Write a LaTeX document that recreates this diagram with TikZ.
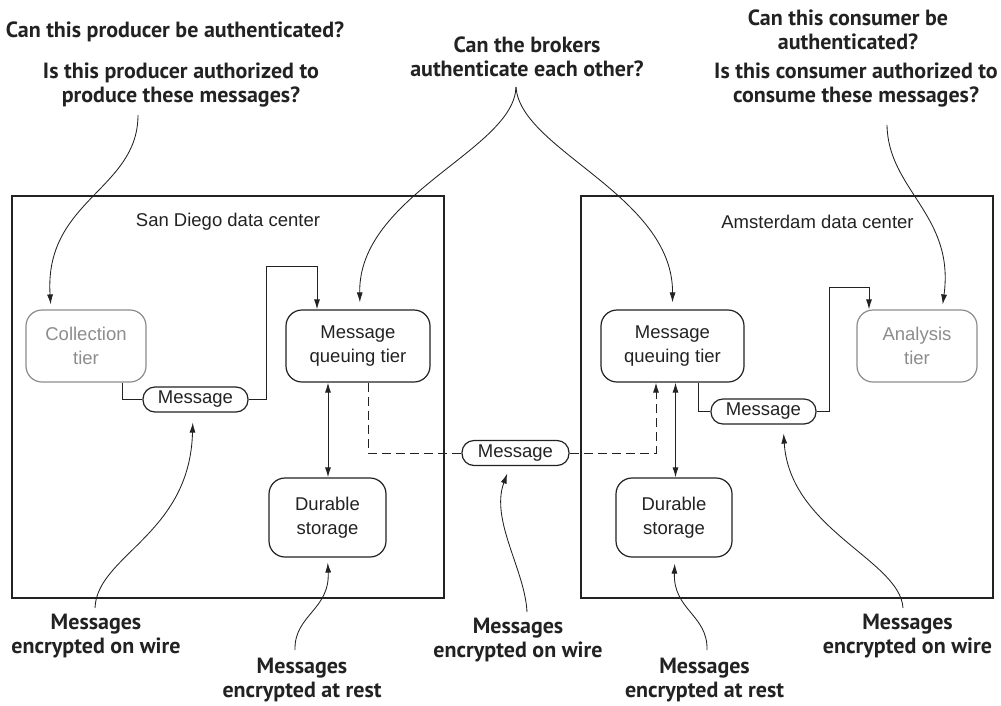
\documentclass[tikz,border=0pt]{standalone}
\usepackage{fontspec}
\setmainfont{Liberation Sans}
\newfontfamily\lblfont{PT Sans}
\usetikzlibrary{arrows.meta,calc}
\definecolor{ink}{HTML}{222222}
\definecolor{dim}{HTML}{8C8C8C}
\begin{document}
\begin{tikzpicture}[x=1pt,y=-1pt,
  tier/.style={draw=ink,line width=1.2pt,rounded corners=16pt,align=center,inner sep=0pt,
    text=ink,font=\fontsize{18.5}{24}\selectfont},
  faded/.style={tier,draw=dim,text=dim},
  pill/.style={draw=ink,line width=1.2pt,rounded corners=12pt,inner sep=0pt,minimum height=25,
    text=ink,font=\fontsize{18.5}{24}\selectfont},
  dcbox/.style={draw=ink,line width=1.2pt,inner sep=0pt},
  dclabel/.style={text=ink,inner sep=0pt,font=\fontsize{18.5}{24}\selectfont},
  lbl/.style={text=ink,align=center,inner sep=0pt,font=\lblfont\bfseries\fontsize{22}{24}\selectfont},
  tip/.style={-{Latex[length=10pt,width=6pt]}},
  tips/.style={{Latex[length=10pt,width=6pt]}-{Latex[length=10pt,width=6pt]}},
  link/.style={draw=ink,line width=1pt},
  dashline/.style={link,dash pattern=on 9pt off 5pt},
  ann/.style={draw=ink,line width=0.85pt,tip},
]
\useasboundingbox (0,0) rectangle (1001,705);

% data centers
\node[dcbox,minimum width=432,minimum height=402] (sd) at (228,397) {};
\node[dcbox,minimum width=412,minimum height=402] (am) at (787,397) {};
\node[dclabel] (sdl) at (228,222) {San Diego data center};
\node[dclabel] (aml) at (817.5,222) {Amsterdam data center};

% tiers
\node[faded,minimum width=120,minimum height=72] (coll) at (86,346) {Collection\\tier};
\node[tier,minimum width=144,minimum height=72] (mq1) at (358,346) {Message\\queuing tier};
\node[tier,minimum width=117,minimum height=79] (d1) at (327.5,517.5) {Durable\\storage};
\node[tier,minimum width=143,minimum height=72] (mq2) at (672.5,346) {Message\\queuing tier};
\node[faded,minimum width=120,minimum height=72] (an) at (917,346) {Analysis\\tier};
\node[tier,minimum width=116,minimum height=79] (d2) at (674,517.5) {Durable\\storage};

% messages
\node[pill,minimum width=105] (m1) at (195.5,399.5) {Message};
\node[pill,minimum width=107] (m2) at (515.5,453) {Message};
\node[pill,minimum width=105] (m3) at (763.5,411.5) {Message};

% questions
\node[lbl] (q1a) at (175,32) {Can this producer be authenticated?};
\node[lbl] (q1b) at (181,85) {Is this producer authorized to\\produce these messages?};
\node[lbl] (q2) at (527,57) {Can the brokers\\authenticate each other?};
\node[lbl] (q3a) at (848,30) {Can this consumer be\\authenticated?};
\node[lbl] (q3b) at (856,85) {Is this consumer authorized to\\consume these messages?};

% bottom notes
\node[lbl] (l1) at (96,636) {Messages\\encrypted on wire};
\node[lbl] (l2) at (302,680) {Messages\\encrypted at rest};
\node[lbl] (l3) at (518,640) {Messages\\encrypted on wire};
\node[lbl] (l4) at (704.5,680) {Messages\\encrypted at rest};
\node[lbl] (l5) at (907.5,636) {Messages\\encrypted on wire};

% curve start points
\coordinate (s1) at (138,115);
\coordinate (s2) at (516,87);
\coordinate (s3) at (887,125);
\coordinate (b1) at (95,608);
\coordinate (b2) at (295,650);
\coordinate (b3) at (527,612);
\coordinate (b4) at (707,650);
\coordinate (b5) at (903,608);

% message flow
\draw[link] ([xshift=36pt]coll.south) |- (m1.west);
\draw[link,tip] (m1.east) -| (266,266) -| ([xshift=-41pt]mq1.north);
\draw[link,tips] ([xshift=-30pt]mq1.south) -- ([xshift=-30pt]mq1.south |- d1.north);
\draw[dashline] ([xshift=10pt]mq1.south) |- (m2.west);
\draw[dashline,tip] (m2.east) -| ([xshift=-16.5pt]mq2.south);
\draw[link,tips] ([xshift=1.5pt]d2.north) -- ([xshift=1.5pt]d2.north |- mq2.south);
\draw[link] ([xshift=25.5pt]mq2.south) |- (m3.west);
\draw[link,tip] (m3.east) -| (829,287) -| ([xshift=-48pt]an.north);

% annotation curves
\draw[ann,shorten >=5pt] (s1) .. controls (138,190) and (44,200) .. ([xshift=-35pt]coll.north);
\draw[ann,shorten >=7pt] (s2) .. controls (514,150) and (358,195) .. ([xshift=2pt]mq1.north);
\draw[ann,shorten >=7pt] (s2) .. controls (520,150) and (673,195) .. (mq2.north);
\draw[ann,shorten >=5pt] (s3) .. controls (888,190) and (955,215) .. ([xshift=25pt]an.north);
\draw[ann,shorten >=10pt] (b1) .. controls (97,555) and (190,535) .. ([xshift=-2.5pt]m1.south);
\draw[ann,shorten >=5pt] (b2) .. controls (294,615) and (330,610) .. (d1.south);
\draw[ann,shorten >=8pt] (b3) .. controls (525,570) and (490,520) .. ([xshift=-5.5pt]m2.south);
\draw[ann,shorten >=6pt] (b4) .. controls (708,615) and (673,610) .. ([xshift=1pt]d2.south);
\draw[ann,shorten >=9pt] (b5) .. controls (900,560) and (790,530) .. ([xshift=19.5pt]m3.south);
\end{tikzpicture}
\end{document}
